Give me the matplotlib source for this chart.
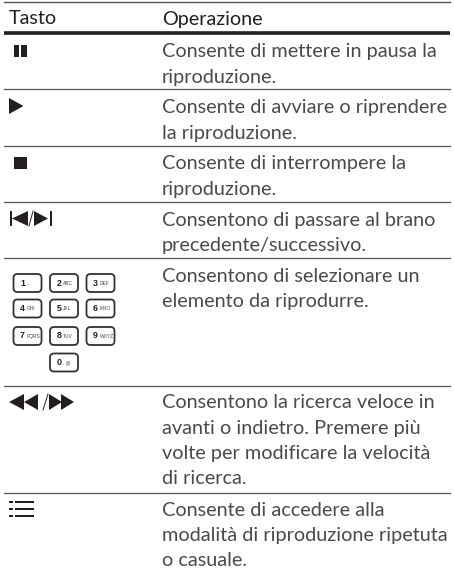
import matplotlib
matplotlib.use("Agg")
import matplotlib.pyplot as plt
from matplotlib.patches import FancyBboxPatch, Polygon, Rectangle

intestazione = ["Tasto", "Operazione"]
descrizioni = [
    ["Consente di mettere in pausa la", "riproduzione."],
    ["Consente di avviare o riprendere", "la riproduzione."],
    ["Consente di interrompere la", "riproduzione."],
    ["Consentono di passare al brano", "precedente/successivo."],
    ["Consentono di selezionare un", "elemento da riprodurre."],
    ["Consentono la ricerca veloce in", "avanti o indietro. Premere più", "volte per modificare la velocità", "di ricerca."],
    ["Consente di accedere alla", "modalità di riproduzione ripetuta", "o casuale."],
]
tasti_num = [["1", "2", "3"], ["4", "5", "6"], ["7", "8", "9"], [None, "0", None]]
tasti_let = [["..", "ABC", "DEF"], ["GHI", "JKL", "MNO"], ["PQRS", "TUV", "WXYZ"], [None, ". @", None]]

# posizioni in pixel
righe_y = [89, 146, 202, 258, 386, 493]
base_y = [57.5, 113.5, 169.5, 226, 281.5, 408.5, 516]
x_tasto = 9
x_testo = 162
interlinea = 25.2
nero = "#231f20"

fig = plt.figure(figsize=(4.54, 5.72), dpi=100)
ax = fig.add_axes([0, 0, 1, 1])
ax.set_xlim(0, 454)
ax.set_ylim(572, 0)
ax.axis("off")

ax.plot([4, 450], [2, 2], color="#555555", lw=1.0)
ax.plot([4, 450], [32.5, 32.5], color=nero, lw=2.6, solid_capstyle="butt")
for y in righe_y:
    ax.plot([4, 450], [y, y], color="#555555", lw=0.9)

ax.text(x_tasto, 24.5, intestazione[0], fontsize=14.2, family="Lato", color=nero, va="baseline")
ax.text(x_testo, 24.5, intestazione[1], fontsize=14.2, family="Lato", color=nero, va="baseline")

for y0, righe in zip(base_y, descrizioni):
    for i, riga in enumerate(righe):
        ax.text(x_testo, y0 + i * interlinea, riga, fontsize=14.3, family="Lato",
                color="#4a4a4a", va="baseline")

def barra(x0, x1, y0, y1):
    ax.add_patch(Rectangle((x0, y0), x1 - x0, y1 - y0, color=nero, lw=0))

def triangolo(x_base, x_punta, y0, y1):
    ax.add_patch(Polygon([(x_base, y0), (x_base, y1), (x_punta, (y0 + y1) / 2)], color=nero, lw=0))

# pausa, play, stop
barra(13.5, 19, 45, 57)
barra(20.5, 26.5, 45, 57)
triangolo(9, 23.5, 98, 114)
barra(14, 27, 157, 169)

# precedente / successivo
barra(9.5, 11.5, 211, 226)
triangolo(28, 12, 211, 226)
ax.plot([29, 33], [226, 211], color=nero, lw=0.7)
triangolo(34, 48, 211, 226)
barra(49.5, 51.5, 211, 226)

# indietro / avanti
triangolo(24, 9, 394, 410)
triangolo(38, 24, 394, 410)
ax.plot([43, 48], [410, 394], color=nero, lw=0.7)
triangolo(49, 62, 394, 410)
triangolo(61, 74, 394, 410)

# ripetizione
for y in [502, 509, 516]:
    barra(9, 13, y - 1.2, y + 1.2)
    barra(15, 34, y - 1.2, y + 1.2)

# tastierino
colonne_x = [13.5, 50, 86.5]
file_y = [274, 299.5, 327, 353.5]
for y, nums, lets in zip(file_y, tasti_num, tasti_let):
    for x, n, l in zip(colonne_x, nums, lets):
        if n is None:
            continue
        ax.add_patch(FancyBboxPatch((x, y), 28, 18, boxstyle="round,pad=0,rounding_size=4",
                                    fc="white", ec="#333333", lw=1.3))
        ax.text(x + 6.5, y + 9, n, fontsize=6.4, family="Liberation Sans", fontweight="bold",
                color=nero, ha="left", va="center")
        ax.text(x + 13, y + 9.5, l, fontsize=3.5, family="Liberation Sans", color="#444444",
                ha="left", va="center")

fig.savefig("out.png", dpi=100)
